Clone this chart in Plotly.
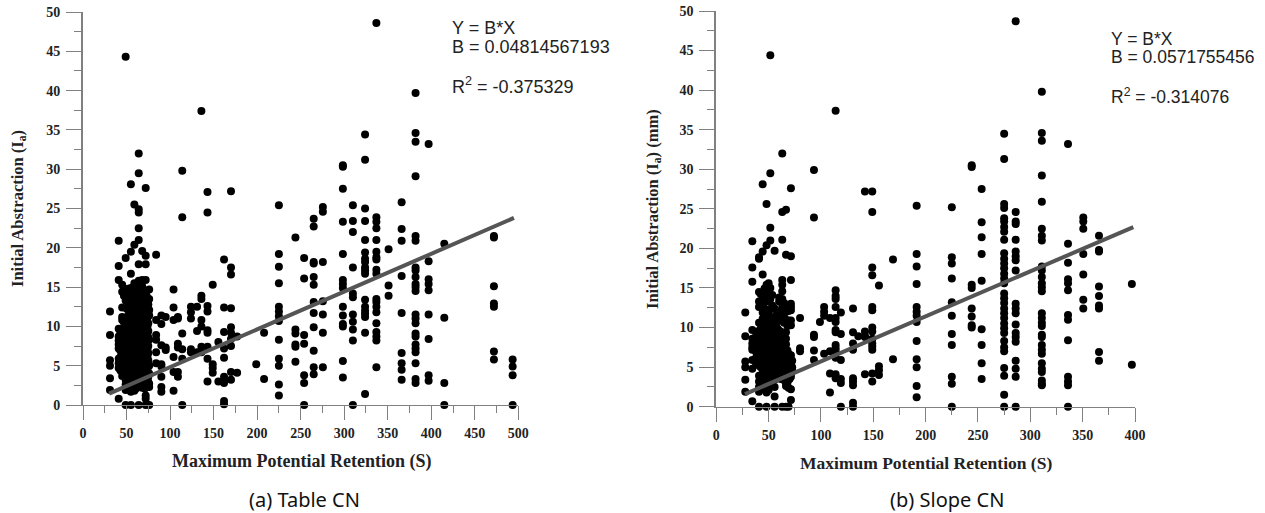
import plotly.graph_objects as go

# ---- Panel (a) Table CN: retention column values and Ia values read per column
table_s = [31, 41, 43, 45, 47, 49, 50.5, 52, 53.5, 55, 56, 57, 59, 61, 63, 64, 65, 66, 67, 68, 69, 70, 71, 72, 73, 74, 75, 76, 84, 90, 95, 104, 109, 114, 124, 131, 136, 143, 149,
           155.5, 162, 170, 177, 199, 208, 225, 244, 254, 265, 275.5, 298.5, 310, 324, 337, 351, 366, 382, 397, 415, 472, 493.5]
table_ia = [
    [11.9, 8.9, 5.7, 5.0, 3.4, 1.9],
    [20.9, 17.7, 15.9, 9.7, 8.7, 8.2, 7.7, 7.2, 5.9, 5.3, 4.7, 0.8],
    [9.2, 8.0, 6.9, 6.1, 5.1, 4.4],
    [15.3, 14.4, 12.4, 11.2, 10.8, 9.3, 8.5, 7.9, 7.4, 6.8, 6.2, 5.5, 4.9, 4.2, 3.7],
    [13.9, 10.5, 9.8, 8.7, 8.1, 7.2, 6.5, 5.9, 5.1, 4.6],
    [44.3, 18.7, 14.4, 13.3, 11.0, 10.3, 9.6, 8.9, 8.2, 7.6, 7.0, 6.4, 5.8, 5.1, 4.4, 3.8, 3.2, 2.6, 1.9, 0.0],
    [12.2, 9.1, 7.8, 6.2, 4.7, 3.0],
    [14.8, 13.7, 12.6, 11.4, 10.7, 9.9, 9.2, 8.5, 7.8, 7.1, 6.5, 5.6, 4.9, 4.1, 3.5, 2.4],
    [13.4, 12.1, 11.1, 10.3, 9.6, 8.2, 7.5, 6.7, 5.9, 5.2, 4.4, 3.2, 2.5],
    [28.1, 19.5, 16.7, 14.9, 14.1, 13.2, 12.3, 11.7, 10.9, 10.1, 9.5, 8.7, 8.0, 7.3, 6.7, 6.0, 5.3, 4.6, 3.9, 3.0, 2.2, 1.7, 0.0],
    [11.8, 9.9, 8.5, 7.0, 5.0, 3.4, 2.0],
    [13.6, 12.9, 11.2, 10.4, 9.0, 8.4, 7.5, 6.9, 6.1, 5.5, 4.3, 3.6, 2.7],
    [25.5, 20.4, 15.5, 14.6, 13.8, 12.1, 11.5, 10.6, 9.8, 9.1, 8.2, 7.6, 6.8, 6.2, 5.0, 4.2, 3.4, 2.5, 1.8],
    [15.2, 13.1, 12.5, 11.0, 10.2, 9.3, 8.8, 7.9, 7.2, 6.4, 5.7, 4.8, 3.9, 3.1, 2.1],
    [14.4, 12.0, 10.4, 9.7, 8.3, 7.4, 6.6, 5.4, 4.5, 3.7, 2.7],
    [32.0, 29.5, 24.9, 24.5, 22.5, 21.0, 17.9, 15.8, 14.7, 13.4, 12.4, 11.8, 10.9, 10.0, 9.4, 8.6, 7.8, 7.0, 6.3, 5.5, 4.7, 4.0, 3.2, 2.4, 0.0],
    [13.0, 11.1, 9.3, 8.0, 6.4, 5.0, 3.3, 2.4],
    [14.2, 12.9, 11.3, 10.5, 9.6, 8.9, 8.1, 7.4, 6.6, 5.9, 5.2, 4.4, 3.6, 2.8],
    [12.0, 10.4, 9.1, 7.3, 5.8, 4.1, 2.9],
    [19.6, 15.9, 15.1, 13.7, 12.2, 11.6, 10.8, 10.1, 9.2, 8.4, 7.7, 6.9, 6.1, 5.4, 4.6, 3.8, 3.0, 2.2],
    [14.6, 12.7, 10.2, 8.6, 7.0, 5.2, 3.7, 2.3],
    [13.2, 11.9, 11.0, 9.9, 9.0, 8.2, 7.4, 6.5, 5.7, 4.9, 4.2, 3.4, 2.6],
    [12.3, 10.7, 9.3, 7.9, 6.4, 4.7, 3.2, 2.1],
    [27.6, 19.0, 17.9, 15.9, 14.5, 13.6, 12.6, 11.7, 10.4, 9.5, 8.7, 7.6, 6.8, 5.9, 5.0, 4.3, 3.5, 2.8, 1.2, 0.8, 0.0],
    [13.9, 11.3, 9.9, 8.4, 7.2, 5.6, 3.9, 2.6],
    [13.1, 12.4, 11.1, 10.0, 9.1, 8.0, 7.1, 6.2, 5.3, 4.5, 3.1, 2.5],
    [12.8, 11.7, 10.4, 9.4, 8.6, 7.5, 6.6, 5.7, 3.6, 2.9],
    [14.7, 13.5, 12.1, 11.4, 8.3, 5.0, 4.0, 2.7, 2.3, 0.0],
    [19.1, 10.8, 8.9, 8.3, 6.7, 5.3],
    [11.4, 10.3, 7.6, 5.2, 4.9, 3.6, 2.3, 1.7],
    [11.2, 7.3, 7.0],
    [14.7, 12.4, 10.8, 6.1, 4.2, 1.8],
    [11.2, 11.0, 7.8, 7.3, 4.2, 3.6],
    [29.8, 23.9, 9.1, 7.1, 5.9, 0.0],
    [12.5, 11.8, 11.0, 7.1, 6.7],
    [12.5, 9.4, 6.7],
    [37.4, 13.9, 13.5, 10.8, 10.0, 7.4, 6.7],
    [27.1, 24.5, 12.6, 11.9, 9.5, 9.2, 7.4, 5.9, 3.0],
    [15.3, 5.2, 4.7, 4.1],
    [8.0, 3.0],
    [18.5, 12.4, 9.3, 7.2, 6.0, 3.6, 3.1, 2.8, 0.5, 0.1],
    [27.2, 17.5, 16.6, 12.3, 9.9, 9.2, 8.4, 7.5, 4.2, 3.2],
    [8.7, 4.1],
    [5.2],
    [9.2, 3.3],
    [25.4, 19.2, 17.6, 15.5, 12.5, 11.9, 11.3, 10.7, 8.3, 5.9, 5.0, 2.6, 1.2],
    [21.3, 9.6, 9.1, 7.7, 7.4, 5.5],
    [18.7, 16.1, 8.9, 7.8, 3.8, 2.8, 0.0],
    [23.7, 22.7, 18.2, 18.0, 16.3, 15.3, 13.1, 11.7, 9.9, 6.9, 4.8, 3.9],
    [25.2, 24.6, 18.2, 13.2, 11.5, 9.2, 4.8],
    [30.5, 30.3, 27.5, 23.3, 19.2, 15.9, 15.4, 14.9, 12.5, 11.4, 10.3, 10.0, 5.6, 3.5],
    [25.4, 23.4, 22.0, 17.5, 14.2, 13.7, 11.5, 10.6, 9.6, 8.2, 0.0],
    [34.4, 31.2, 25.0, 23.4, 21.0, 19.4, 18.6, 18.2, 17.5, 17.1, 16.7, 13.4, 12.5, 12.0, 11.6, 11.2, 9.2, 1.4],
    [48.6, 23.9, 23.3, 22.5, 21.0, 19.5, 18.8, 18.5, 17.2, 16.7, 13.5, 13.1, 12.5, 11.8, 10.4, 9.3, 8.7, 8.2, 4.8],
    [19.8, 15.2, 13.9],
    [25.8, 22.4, 20.9, 16.4, 11.7, 6.6, 5.3, 4.5, 3.2],
    [39.7, 34.6, 33.5, 29.1, 21.5, 20.9, 17.5, 17.1, 16.3, 15.4, 15.0, 14.5, 11.5, 11.0, 10.4, 9.1, 8.7, 7.7, 7.2, 6.7, 5.3, 3.3, 2.8],
    [33.2, 18.3, 16.0, 15.4, 14.6, 11.5, 8.4, 3.8, 3.1],
    [20.5, 11.1, 2.8, 0.0],
    [21.5, 21.3, 15.1, 12.9, 12.5, 6.8, 5.8],
    [5.8, 4.9, 3.8, 0.0],
]

# ---- Panel (b) Slope CN
slope_s = [27.7, 34.4, 38, 40.8, 42.5, 44.3, 46, 48, 50, 51.6, 53.5, 55.7, 57.5, 59, 60, 61.5, 63, 64.8, 65.8, 66.6, 68, 69, 70, 71.3, 72.5, 80, 93.3, 99, 103,
           108.6, 114, 119, 130.6, 135.7, 142, 149, 155.4, 168.8, 191.4, 225, 244, 253.5, 275, 286, 311, 336, 350.6, 365.6, 397]
slope_ia = [
    [11.9, 8.9, 5.7, 5.0, 3.4, 1.9],
    [20.9, 17.6, 15.8, 9.7, 8.6, 8.0, 7.5, 7.2, 5.9, 4.8, 0.7],
    [9.3, 8.4, 7.8, 6.9, 6.2, 5.4],
    [18.9, 18.7, 14.5, 13.3, 12.6, 10.6, 9.6, 8.9, 8.2, 7.4, 6.7, 5.9, 5.2, 3.9, 3.2, 2.5, 1.9, 0.0],
    [14.2, 10.4, 9.0, 7.7, 6.3, 5.0, 3.4, 2.3],
    [28.1, 19.6, 16.7, 14.2, 13.1, 11.9, 11.1, 10.3, 9.4, 8.7, 8.0, 7.2, 6.5, 5.6, 4.3, 3.6, 2.8],
    [14.9, 13.7, 12.4, 10.8, 9.9, 9.1, 8.3, 7.5, 6.8, 6.1, 5.3, 4.6, 3.9, 3.0, 2.2],
    [25.6, 20.4, 15.4, 14.3, 13.3, 12.2, 11.5, 10.6, 9.8, 9.0, 8.2, 7.6, 6.9, 6.2, 5.5, 4.8, 4.0, 3.3, 2.5, 1.8, 0.0],
    [15.6, 13.9, 11.8, 10.2, 9.5, 8.6, 7.9, 7.1, 6.4, 5.7, 4.5, 3.7, 2.9, 2.1],
    [44.4, 29.5, 22.6, 21.0, 15.0, 13.6, 12.3, 11.2, 10.4, 9.7, 8.8, 8.1, 7.4, 6.7, 5.9, 5.1, 4.3, 3.5, 2.7],
    [14.1, 12.8, 10.9, 10.0, 9.2, 8.4, 7.7, 7.0, 6.1, 5.4, 4.6, 3.8],
    [19.7, 12.4, 11.3, 10.5, 9.6, 8.9, 8.2, 7.3, 6.6, 5.8, 5.0, 4.2, 3.4, 2.5, 1.3, 0.0],
    [11.6, 10.1, 9.0, 7.9, 7.0, 5.5, 4.7, 3.9],
    [12.0, 10.8, 9.8, 8.8, 7.7, 6.4, 5.2, 3.9],
    [13.8, 13.3, 12.0, 11.0, 9.1, 8.7, 8.0, 7.5, 6.2, 5.6, 4.2],
    [11.3, 9.5, 7.0, 6.0, 4.9, 3.5],
    [32.0, 24.6, 21.1, 16.0, 15.4, 14.6, 13.6, 12.6, 11.6, 9.3, 8.5, 7.2, 6.5, 5.7, 5.0, 4.4, 0.0],
    [13.1, 12.3, 10.6, 9.0, 8.3, 6.8, 6.0, 5.2],
    [11.9, 7.6, 6.6, 5.6, 4.6, 3.2],
    [24.9, 19.2, 11.0, 9.4, 8.6, 7.9, 6.3, 5.6, 4.9, 4.2, 3.4, 2.6, 0.0],
    [10.2, 7.1, 6.4, 5.1, 4.0, 3.1],
    [12.1, 10.9, 6.7, 5.9, 5.3, 4.6, 3.8, 2.4, 0.0],
    [12.7, 6.2, 5.5, 4.4, 3.5],
    [27.6, 19.0, 16.0, 13.0, 12.6, 12.2, 10.9, 10.3, 6.5, 6.0, 5.4, 4.8, 4.2, 3.8, 2.2, 0.85],
    [5.8, 5.0, 4.5],
    [11.2, 7.4, 7.0],
    [29.9, 23.9, 9.1, 8.8, 7.1, 5.9],
    [10.7],
    [12.6, 12.0, 11.5, 6.7],
    [11.2, 7.0, 4.2, 1.8],
    [37.4, 14.7, 14.0, 13.6, 12.6, 11.2, 10.7, 9.7, 9.4, 7.8, 7.4, 7.0, 6.2, 4.1, 3.6],
    [11.9, 9.2, 5.9, 3.5, 3.0, 0.0],
    [12.4, 9.4, 8.0, 7.2, 3.6, 3.2, 2.7, 0.5, 0.0],
    [8.9],
    [27.2, 9.5, 8.9, 8.8, 4.1],
    [27.2, 24.6, 17.6, 16.6, 12.6, 12.2, 10.0, 9.5, 8.6, 8.0, 7.6, 7.2, 4.2, 3.2],
    [15.3, 5.1, 4.6, 4.0],
    [18.6, 6.0],
    [25.4, 19.3, 17.7, 15.5, 12.6, 12.0, 11.5, 10.7, 8.3, 6.0, 5.0, 2.6, 1.2],
    [25.2, 18.9, 18.1, 16.2, 13.2, 11.5, 9.2, 7.8, 3.8, 2.9, 0.0],
    [30.5, 30.3, 15.4, 15.0, 12.4, 11.4, 10.3, 10.0],
    [27.5, 23.3, 21.4, 19.3, 15.9, 9.8, 7.8, 5.5, 3.5],
    [34.5, 31.3, 25.6, 25.1, 23.8, 23.4, 22.7, 22.1, 21.1, 19.4, 18.7, 18.1, 17.5, 16.8, 16.2, 15.6, 14.3, 13.7, 13.1,
     12.4, 11.8, 11.2, 10.5, 9.9, 9.3, 8.3, 7.5, 7.0, 4.9, 3.9, 1.5, 0.0],
    [48.7, 24.6, 23.4, 23.1, 21.1, 19.6, 19.0, 18.5, 17.2, 13.0, 12.4, 11.8, 10.4, 9.3, 8.8, 8.2, 5.8, 4.8, 3.8, 0.0],
    [39.8, 34.6, 33.6, 29.2, 25.9, 22.5, 21.6, 21.0, 17.7, 17.2, 16.4, 15.6, 15.1, 14.6, 11.8, 11.2, 10.6, 10.2, 9.1, 8.8,
     7.8, 7.2, 6.7, 5.5, 4.8, 4.4, 3.3, 2.9, 2.7],
    [33.2, 20.6, 18.2, 16.1, 15.6, 14.7, 11.6, 11.0, 8.4, 3.8, 3.2, 2.7, 0.0],
    [23.9, 23.4, 22.5, 19.3, 16.7, 13.5, 12.4],
    [21.6, 19.8, 19.6, 15.2, 14.0, 12.8, 12.4, 6.9, 5.8],
    [15.5, 5.3],
]

# Fitted lines, end points
table_fit_s = [30, 495]
table_fit_ia = [1.45, 23.8]
slope_fit_s = [27.4, 398.4]
slope_fit_ia = [1.6, 22.7]

x_ticks_a = [0, 50, 100, 150, 200, 250, 300, 350, 400, 450, 500]
x_ticks_b = [0, 50, 100, 150, 200, 250, 300, 350, 400]
y_ticks = [0, 5, 10, 15, 20, 25, 30, 35, 40, 45, 50]

W, H = 1265, 513
SERIF = "Liberation Serif"
SANS = "Liberation Sans"
AXIS = "#808080"


def flat(cols, vals):
    xs, ys = [], []
    for c, v in zip(cols, vals):
        for y in v:
            xs.append(c)
            ys.append(y)
    return xs, ys


def px(x):
    return x / W


def py(y):
    return 1 - y / H


fig = go.Figure()
for cols, vals, fs, fi, xa, ya in [
    (table_s, table_ia, table_fit_s, table_fit_ia, "x", "y"),
    (slope_s, slope_ia, slope_fit_s, slope_fit_ia, "x2", "y2"),
]:
    xs, ys = flat(cols, vals)
    fig.add_trace(go.Scatter(x=xs, y=ys, mode="markers", xaxis=xa, yaxis=ya, cliponaxis=False,
                             marker=dict(color="black", size=8, line=dict(width=0)), showlegend=False))
    fig.add_trace(go.Scatter(x=fs, y=fi, mode="lines", xaxis=xa, yaxis=ya, cliponaxis=False,
                             line=dict(color="#555555", width=4), showlegend=False))


def xaxis(dom, rng, ticks, minor):
    return dict(domain=dom, range=rng, tickvals=ticks, ticktext=[str(t) for t in ticks], showgrid=False, zeroline=False,
                automargin=False, showline=True, linecolor=AXIS, linewidth=1, ticks="outside", ticklen=14, tickwidth=1,
                tickcolor=AXIS, ticklabelstandoff=1, tickfont=dict(family=SERIF, size=14, color="#222222", weight="bold"),
                minor=dict(dtick=minor, ticks="outside", ticklen=7, tickwidth=1, tickcolor=AXIS, showgrid=False))


def yaxis(dom, anchor):
    return dict(domain=dom, range=[0, 50], anchor=anchor, tickvals=y_ticks, ticktext=[str(t) for t in y_ticks],
                automargin=False, showgrid=False, zeroline=False, showline=True, linecolor=AXIS, linewidth=2, ticks="outside",
                ticklen=15, tickwidth=1, tickcolor=AXIS, ticklabelstandoff=3,
                tickfont=dict(family=SERIF, size=14, color="#222222", weight="bold"),
                minor=dict(dtick=2.5, ticks="outside", ticklen=7, tickwidth=1, tickcolor=AXIS, showgrid=False))


def note(x, y, text, size, family, rot=0, anchor="left", weight="normal", color="#222222"):
    return dict(x=px(x), y=py(y), xref="paper", yref="paper", text=text, showarrow=False, xanchor=anchor, yanchor="middle",
                textangle=rot, font=dict(family=family, size=size, color=color, weight=weight))


annotations = [
    note(449.5, 28, "Y = B*X", 18, SANS),
    note(449.5, 47, "B = 0.04814567193", 18, SANS),
    note(449.5, 85, "R<sup>2</sup> = -0.375329", 18, SANS),
    note(1109, 39, "Y = B*X", 17.5, SANS),
    note(1109, 57, "B = 0.0571755456", 17.5, SANS),
    note(1109, 96, "R<sup>2</sup> = -0.314076", 17.5, SANS),
    note(301, 461.5, "Maximum Potential Retention (S)", 18, SERIF, anchor="center", weight="bold"),
    note(925.5, 463, "Maximum Potential Retention (S)", 17.5, SERIF, anchor="center", weight="bold"),
    note(17.5, 208.5, "Initial Abstraction (I<sub>a</sub>)", 16.5, SERIF, rot=-90, anchor="center", weight="bold"),
    note(653, 209, "Initial Abstraction (I<sub>a</sub>) (mm)", 16.5, SERIF, rot=-90, anchor="center", weight="bold"),
    note(304, 499, "(a) Table CN", 20, "Noto Sans", anchor="center", color="#111111"),
    note(946.5, 499, "(b) Slope CN", 20, "Noto Sans", anchor="center", color="#111111"),
]

fig.update_layout(
    width=W, height=H, margin=dict(l=0, r=0, t=0, b=0), plot_bgcolor="white", paper_bgcolor="white",
    showlegend=False, annotations=annotations,
    xaxis=xaxis([px(83), px(518.3)], [0, 500], x_ticks_a, 25),
    yaxis=yaxis([py(405), py(12)], "x"),
    xaxis2=dict(xaxis([px(716.3), px(1135)], [0, 400], x_ticks_b, 25), anchor="y2"),
    yaxis2=yaxis([py(406.7), py(11)], "x2"),
)
fig.write_html("out.html", config={"displayModeBar": False},
               post_script="document.body.style.margin='0';document.body.style.overflow='hidden';")
